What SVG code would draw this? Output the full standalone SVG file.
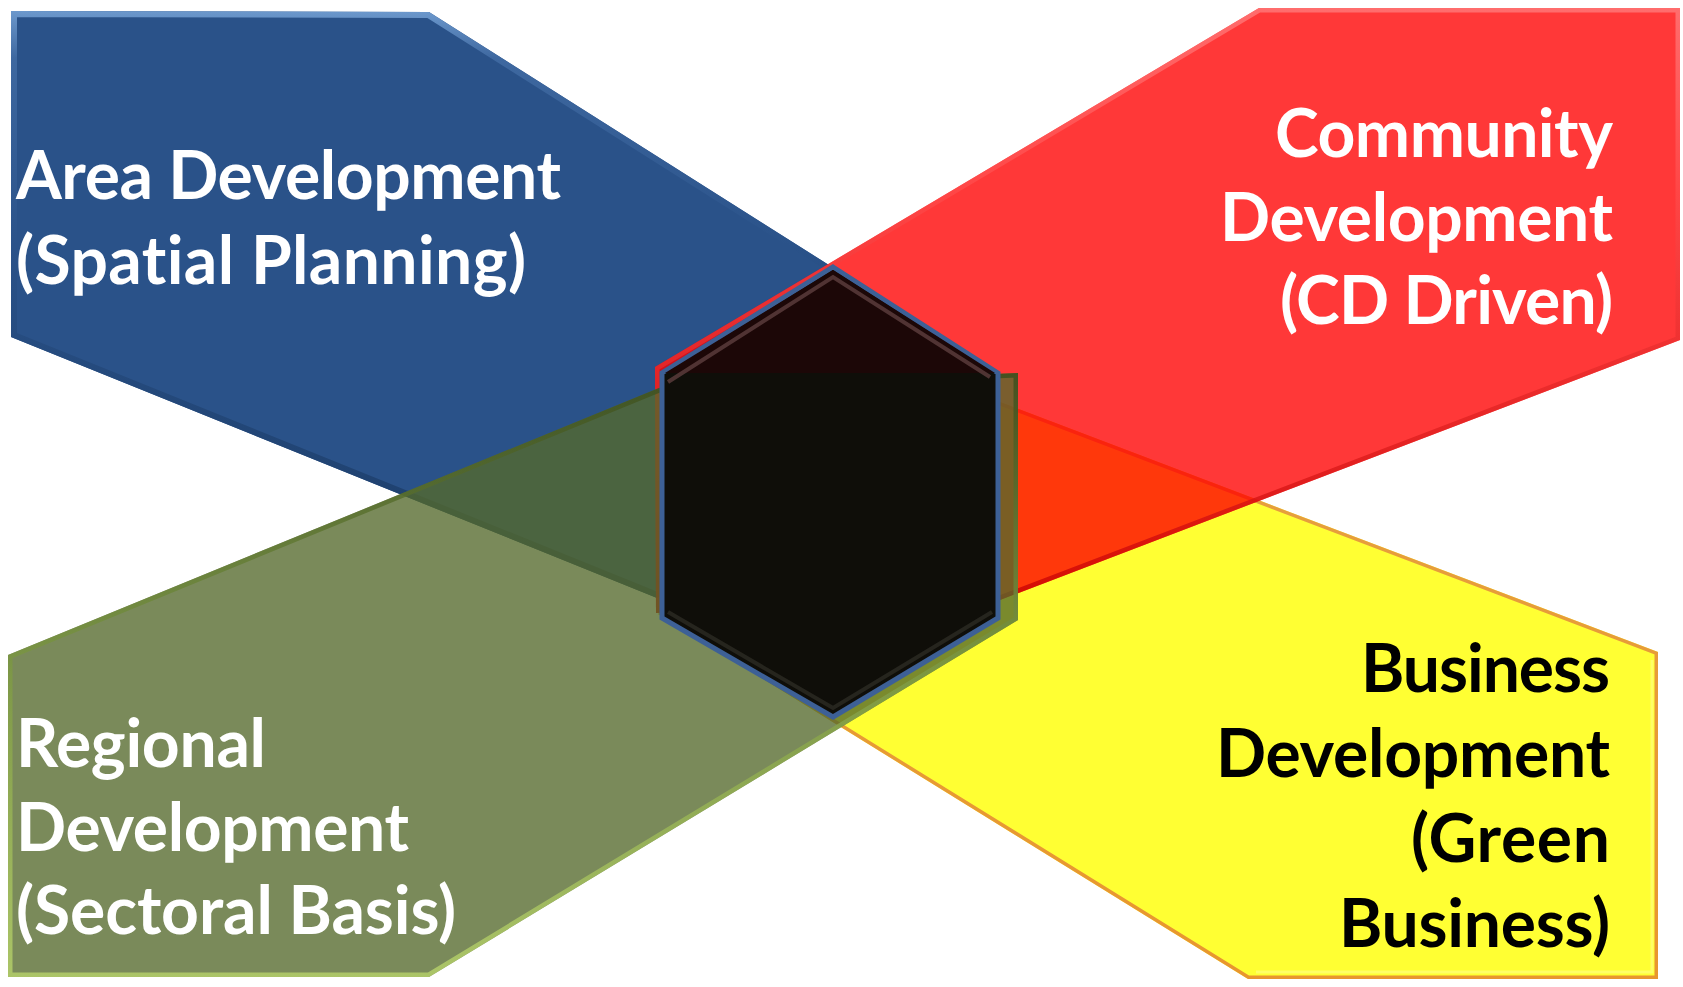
<svg xmlns="http://www.w3.org/2000/svg" xmlns:xlink="http://www.w3.org/1999/xlink" width="1683" height="987" viewBox="0 0 1683 987">
<style>
.lbl{font-family:"Lato","Liberation Sans",sans-serif;font-weight:700;font-size:66px;font-variant-ligatures:none;font-feature-settings:"liga" 0,"clig" 0}
.w{fill:#ffffff}
.k{fill:#000000}
.e{text-anchor:end}
</style>
<defs>
<polygon id="pBlue" points="11,11 429,12 998,372 830,500 657,598 11,337"/>
<polygon id="pRed" points="1259,8 1680,8 1680,340 1000,600 656,613 655,367"/>
<polygon id="pYel" points="1658,652 1658,979 1248,979 658,614 830,500 1000,402"/>
<polygon id="pGrn" points="8,655 659,388 1018,373 1018,620 429,977 8,977"/>
<polygon id="pHex" points="833,267 998,373 998,618 833,717 662,618 662,373"/>
<clipPath id="cBlue"><use xlink:href="#pBlue"/></clipPath>
<clipPath id="cRed"><use xlink:href="#pRed"/></clipPath>
<clipPath id="cYel"><use xlink:href="#pYel"/></clipPath>
<clipPath id="cGrn"><use xlink:href="#pGrn"/></clipPath>
<linearGradient id="gBlue" x1="0" y1="0" x2="0" y2="1">
<stop offset="0" stop-color="#6C98CC"/><stop offset="0.08" stop-color="#3E68A0"/><stop offset="0.4" stop-color="#2A5289"/><stop offset="1" stop-color="#1B3B66"/>
</linearGradient>
<linearGradient id="gRed" x1="0" y1="0" x2="0" y2="1">
<stop offset="0" stop-color="#FF7A7A"/><stop offset="0.3" stop-color="#FF4A4A"/><stop offset="1" stop-color="#C80000"/>
</linearGradient>
<linearGradient id="gYel" x1="0" y1="0" x2="0" y2="1">
<stop offset="0" stop-color="#E6A040"/><stop offset="1" stop-color="#E8962E"/>
</linearGradient>
<linearGradient id="gGrn" x1="0" y1="0" x2="0" y2="1">
<stop offset="0" stop-color="#3C4E1E"/><stop offset="0.5" stop-color="#7E9A44"/><stop offset="1" stop-color="#B4CF6A"/>
</linearGradient>
</defs>
<rect x="0" y="0" width="1683" height="987" fill="#ffffff"/>

<g id="area-development">
<use xlink:href="#pBlue" fill="#2A5289"/>
<use xlink:href="#pBlue" fill="none" stroke="url(#gBlue)" stroke-width="12" clip-path="url(#cBlue)"/>
<text class="lbl w" x="16" y="199" textLength="545">Area Development</text>
<text class="lbl w" x="16" y="284" textLength="510">(Spatial Planning)</text>
</g>

<g id="business-development">
<use xlink:href="#pYel" fill="#FFFF33"/>
<use xlink:href="#pYel" fill="none" stroke="url(#gYel)" stroke-width="7" clip-path="url(#cYel)"/>
<polyline points="1652,660 1652,972 1256,972" fill="none" stroke="#FFFF88" stroke-width="3" opacity="0.6"/>
</g>

<g id="community-development">
<use xlink:href="#pRed" fill="#FF0000" fill-opacity="0.78"/>
<use xlink:href="#pRed" fill="none" stroke="url(#gRed)" stroke-width="9" stroke-opacity="0.8" clip-path="url(#cRed)"/>
<text class="lbl w e" x="1613" y="157" textLength="338">Community</text>
<text class="lbl w e" x="1613" y="241" textLength="393">Development</text>
<text class="lbl w e" x="1613" y="324" textLength="333">(CD Driven)</text>
</g>

<g id="regional-development">
<use xlink:href="#pGrn" fill="#54692C" fill-opacity="0.78"/>
<use xlink:href="#pGrn" fill="none" stroke="url(#gGrn)" stroke-width="9" stroke-opacity="0.85" clip-path="url(#cGrn)"/>
<text class="lbl w" x="16" y="767" textLength="250">Regional</text>
<text class="lbl w" x="16" y="851" textLength="393">Development</text>
<text class="lbl w" x="16" y="934" textLength="440">(Sectoral Basis)</text>
</g>

<g id="business-labels">
<text class="lbl k e" x="1610" y="692" textLength="249">Business</text>
<text class="lbl k e" x="1610" y="777" textLength="394">Development</text>
<text class="lbl k e" x="1610" y="862" textLength="199">(Green</text>
<text class="lbl k e" x="1610" y="947" textLength="271">Business)</text>
</g>

<g id="center-hexagon">
<use xlink:href="#pHex" fill="#0F0E09" stroke="#3D6096" stroke-width="5" stroke-linejoin="miter"/>
<polygon points="833,270 995,373 665,373" fill="#1C0707"/>
<polyline points="668,382 833,277 990,377" fill="none" stroke="#5E3E3E" stroke-width="4" stroke-opacity="0.8"/>
<polyline points="668,612 833,708 992,612" fill="none" stroke="#26251E" stroke-width="4"/>
</g>

<g id="connectors"></g>
</svg>
